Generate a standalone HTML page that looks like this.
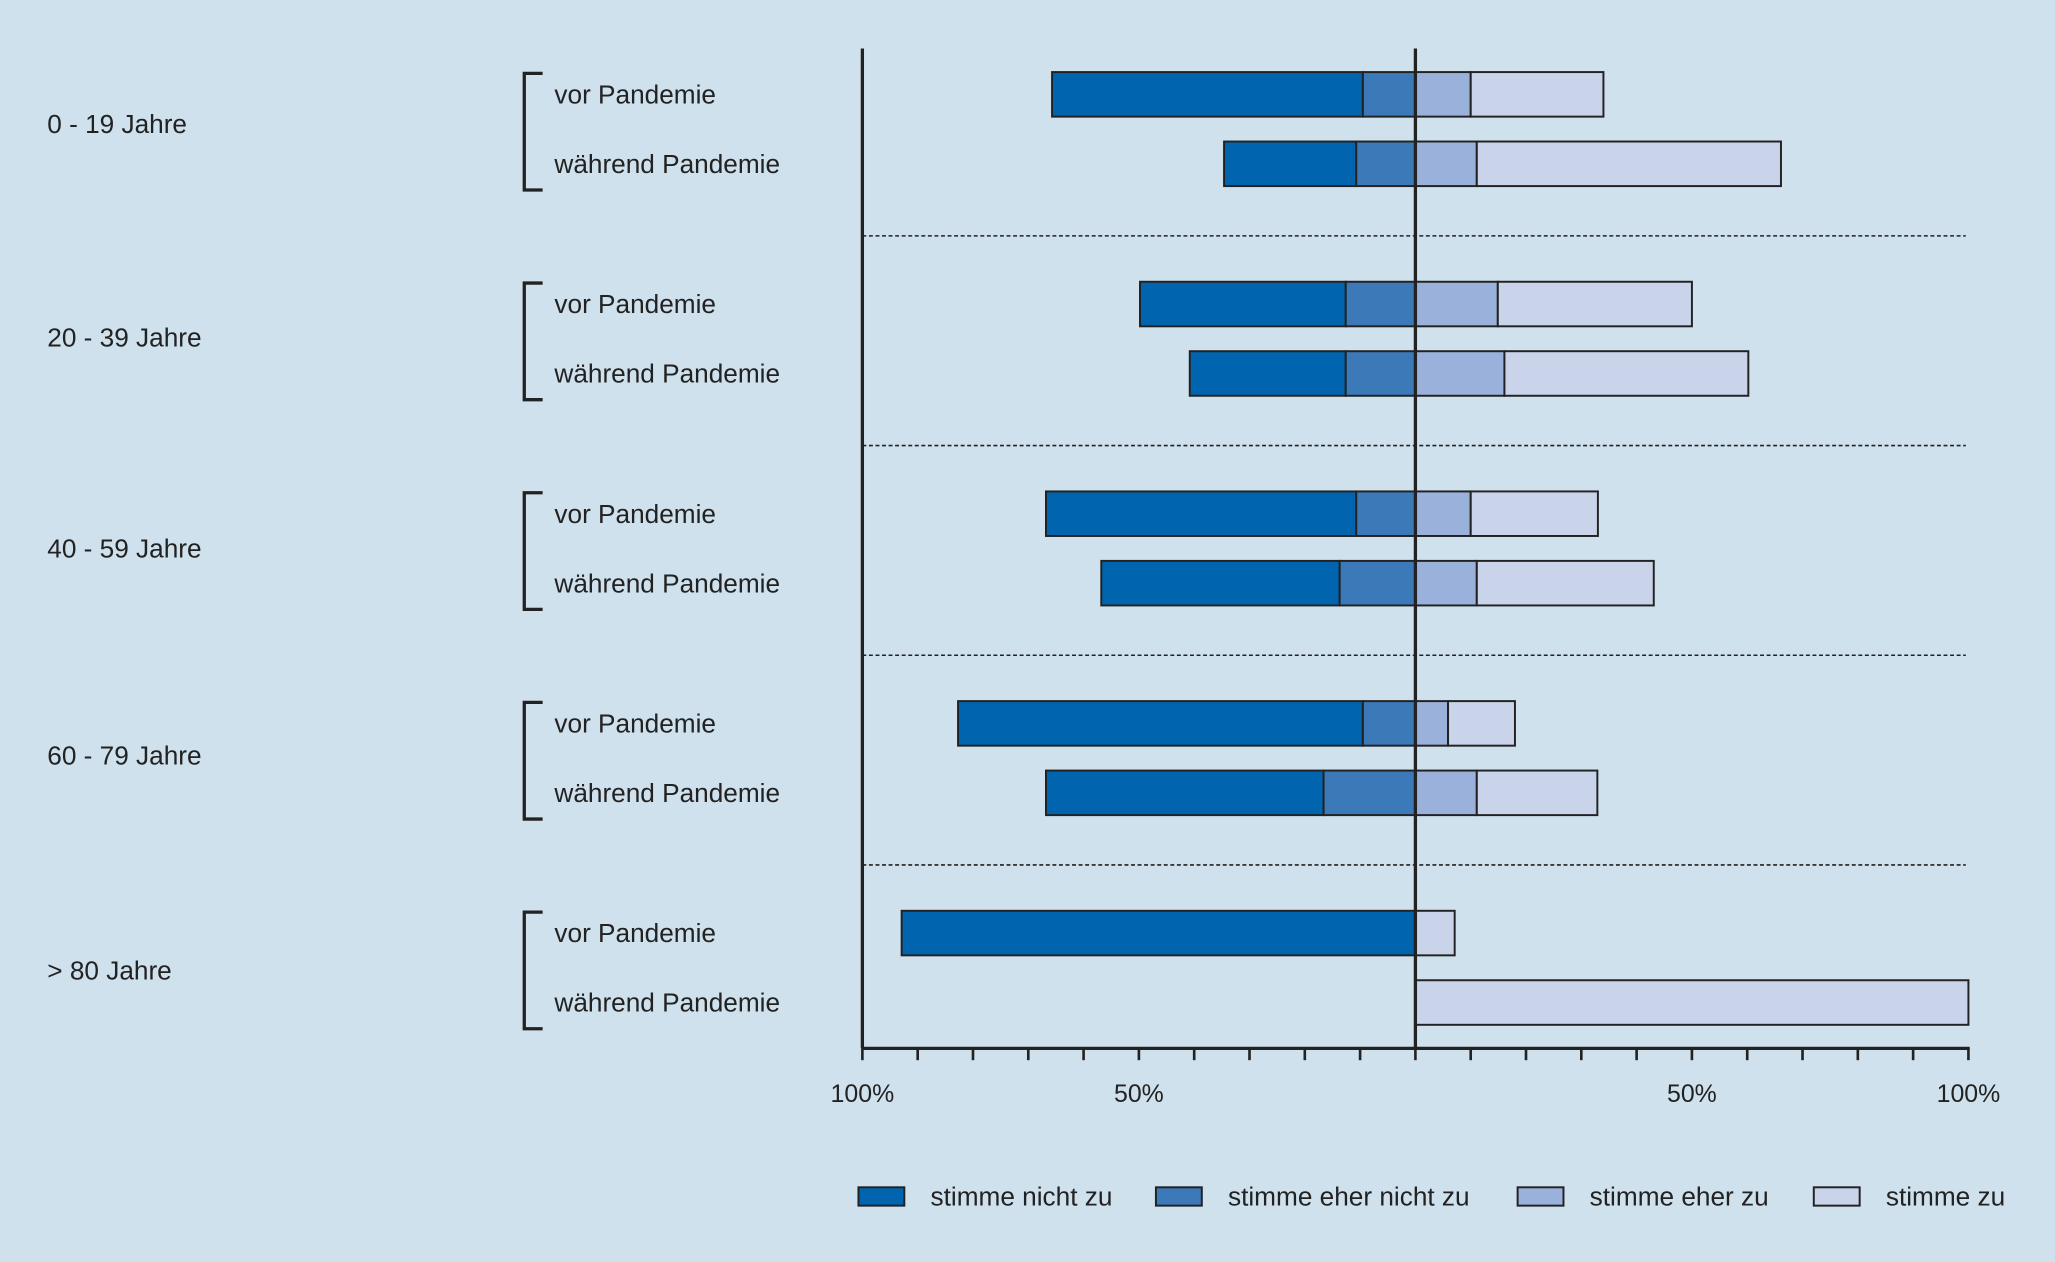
<!DOCTYPE html>
<html><head><meta charset="utf-8"><style>
html,body{margin:0;padding:0;background:#cfe1ed;}
svg{display:block;font-family:"Liberation Sans",sans-serif;}
</style></head><body>
<svg id="chart" width="2055" height="1262" viewBox="0 0 1568 963" xmlns="http://www.w3.org/2000/svg">
<rect width="1568" height="963" fill="#cfe1ed"/>
<g id="g"></g>
</svg>
<script>
const groups = ["0 - 19 Jahre","20 - 39 Jahre","40 - 59 Jahre","60 - 79 Jahre","> 80 Jahre"];
const rowLabels = ["vor Pandemie","während Pandemie"];
const nicht = [56.2,23.9,37.2,28.2,56.1,43.1,73.2,50.2,92.9,0];
const eherNicht = [9.5,10.7,12.6,12.6,10.7,13.7,9.5,16.6,0,0];
const eherZu = [10,11.1,14.9,16.1,10,11.1,5.9,11.1,0,0];
const zu = [24,55,35.1,44.1,23,32,12.1,21.8,7.1,100];
const tickLabels = ["100%","50%","","50%","100%"];
const legendLabels = ["stimme nicht zu","stimme eher nicht zu","stimme eher zu","stimme zu"];
const colors = ["#0065ae","#3b79b9","#99b1db","#c9d4eb"];

const NS="http://www.w3.org/2000/svg";
const g=document.getElementById('g');
const cx=1080, unit=4.22;
const x=v=>cx+v*unit;
function el(t,a,txt){const e=document.createElementNS(NS,t);for(const k in a)e.setAttribute(k,a[k]);if(txt!==undefined)e.textContent=txt;g.appendChild(e);return e;}
const rowY=i=>72+Math.floor(i/2)*160+(i%2)*53;
const groupLabelOffset=[-6,-3,-2,-4,0];

for(let k=0;k<4;k++){const e=el('line',{x1:658,x2:1500,y1:180+k*160,y2:180+k*160,stroke:'#222','stroke-width':1.2,'stroke-dasharray':'3,2'});
}

for(let i=0;i<nicht.length;i++){
  const y=rowY(i)-17,h=34;
  const segs=[[-(nicht[i]+eherNicht[i]),-eherNicht[i],0],[-eherNicht[i],0,1],[0,eherZu[i],2],[eherZu[i],eherZu[i]+zu[i],3]];
  segs.forEach(s=>{ if(s[1]-s[0]<=0)return;
    const r=el('rect',{x:x(s[0]),y:y,width:(s[1]-s[0])*unit,height:h,fill:colors[s[2]],stroke:'#222','stroke-width':1.5});
    
    
  });
  const t=el('text',{x:423,y:rowY(i)+7,'font-size':20,fill:'#222'},rowLabels[i%2]);
  
}
groups.forEach((gname,k)=>{
  const top=56+k*160,bot=145+k*160;
  const p=el('path',{d:`M414 ${top} H400 V${bot} H414`,fill:'none',stroke:'#222','stroke-width':2.5});
  
  const t=el('text',{x:36,y:(top+bot)/2+7+groupLabelOffset[k],'font-size':20,fill:'#222'},gname);
  
});
let a=el('line',{x1:658,x2:658,y1:37,y2:800,stroke:'#222','stroke-width':2.5});

a=el('line',{x1:cx,x2:cx,y1:37,y2:800,stroke:'#222','stroke-width':2.5});

a=el('line',{x1:658,x2:1503,y1:800,y2:800,stroke:'#222','stroke-width':2.5});

for(let v=-100;v<=100;v+=10){const tk=el('line',{x1:x(v),x2:x(v),y1:800,y2:809,stroke:'#222','stroke-width':2});
}
tickLabels.forEach((l,k)=>{ if(!l)return; const v=-100+k*50;
  const t=el('text',{x:x(v),y:841,'font-size':19,'text-anchor':'middle',fill:'#222'},l);
  });
const lx=[655,882,1158,1384];
legendLabels.forEach((l,k)=>{
  const r=el('rect',{x:lx[k],y:906,width:35,height:14,fill:colors[k],stroke:'#222','stroke-width':1.5});
  
  const t=el('text',{x:lx[k]+55,y:920,'font-size':20,fill:'#222'},l);
  
});
</script>
</body></html>
